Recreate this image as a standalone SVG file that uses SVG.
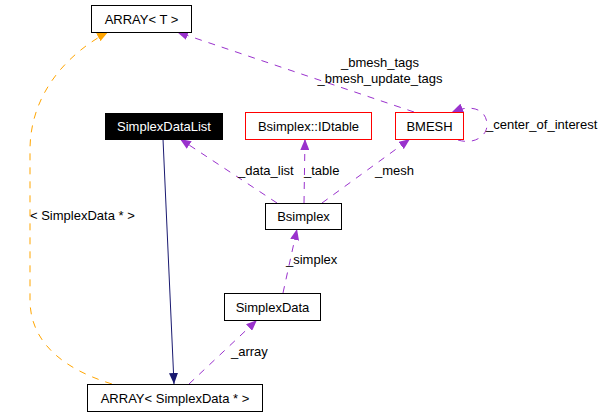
<svg xmlns="http://www.w3.org/2000/svg" width="609" height="416" viewBox="0 0 609 416">
<style>
text{font-family:"Liberation Sans",Arial,sans-serif;font-size:13px;fill:#000}
.c{text-anchor:middle}
.box{fill:#fff;stroke:#000;stroke-width:1}
.red{fill:#fff;stroke:#ff0000;stroke-width:1}
.blk{fill:#000;stroke:#000}
.use{fill:none;stroke:#9a32cd;stroke-width:1;stroke-dasharray:7,7}
.tpl{fill:none;stroke:#ffa500;stroke-width:1;stroke-dasharray:7,7}
.inh{fill:none;stroke:#191970;stroke-width:1}
</style>
<defs>
<marker id="ap" markerUnits="userSpaceOnUse" markerWidth="12" markerHeight="9" refX="11" refY="4.5" orient="auto"><path d="M0,0 L11,4.5 L0,9 z" fill="#9a32cd"/></marker>
<marker id="ao" markerUnits="userSpaceOnUse" markerWidth="12" markerHeight="9" refX="11" refY="4.5" orient="auto"><path d="M0,0 L11,4.5 L0,9 z" fill="#ffa500"/></marker>
<marker id="an" markerUnits="userSpaceOnUse" markerWidth="12" markerHeight="9" refX="11" refY="4.5" orient="auto"><path d="M0,0 L11,4.5 L0,9 z" fill="#191970"/></marker>
</defs>
<g id="edges">
<path class="inh" d="M163,139 L174,384" marker-end="url(#an)"/>
<path class="tpl" d="M112,384 C60,368 30,340 30,300 L30,150 C30,100 60,58 108,32" marker-end="url(#ao)"/>
<path class="use" d="M414,112 L177,32" marker-end="url(#ap)"/>
<path class="use" d="M458,140 C474,145 487,136 487,125 C487,111 474,103 452,112" marker-end="url(#ap)"/>
<path class="use" d="M277,203 L180,139" marker-end="url(#ap)"/>
<path class="use" d="M304,203 L305,139" marker-end="url(#ap)"/>
<path class="use" d="M322,203 L410,139" marker-end="url(#ap)"/>
<path class="use" d="M283,293 L297,229" marker-end="url(#ap)"/>
<path class="use" d="M189,384 L257,320" marker-end="url(#ap)"/>
<text x="380" y="67" class="c">_bmesh_tags</text>
<text x="380" y="83" class="c">_bmesh_update_tags</text>
<text x="486" y="129">_center_of_interest</text>
<text x="238" y="175">_data_list</text>
<text x="304" y="175">_table</text>
<text x="375" y="175">_mesh</text>
<text x="286" y="264">_simplex</text>
<text x="231" y="356">_array</text>
<text x="30" y="220">&lt; SimplexData * &gt;</text>
</g>
<g id="ARRAY_T"><rect class="box" x="91.5" y="5.5" width="100" height="27"/><text x="141.5" y="24" class="c">ARRAY&lt; T &gt;</text></g>
<g id="SimplexDataList"><rect class="blk" x="105.5" y="113.5" width="117" height="26"/><text x="164" y="131" class="c" style="fill:#fff">SimplexDataList</text></g>
<g id="IDtable"><rect class="red" x="245.5" y="112.5" width="126" height="27"/><text x="308.5" y="131" class="c">Bsimplex::IDtable</text></g>
<g id="BMESH"><rect class="red" x="395.5" y="112.5" width="68" height="27"/><text x="429.5" y="131" class="c">BMESH</text></g>
<g id="Bsimplex"><rect class="box" x="265.5" y="203.5" width="76" height="26"/><text x="303.5" y="221" class="c">Bsimplex</text></g>
<g id="SimplexData"><rect class="box" x="224.5" y="293.5" width="96" height="27"/><text x="272.5" y="312" class="c">SimplexData</text></g>
<g id="ARRAY_SD"><rect class="box" x="87.5" y="384.5" width="175" height="27"/><text x="175" y="403" class="c">ARRAY&lt; SimplexData * &gt;</text></g>
</svg>
